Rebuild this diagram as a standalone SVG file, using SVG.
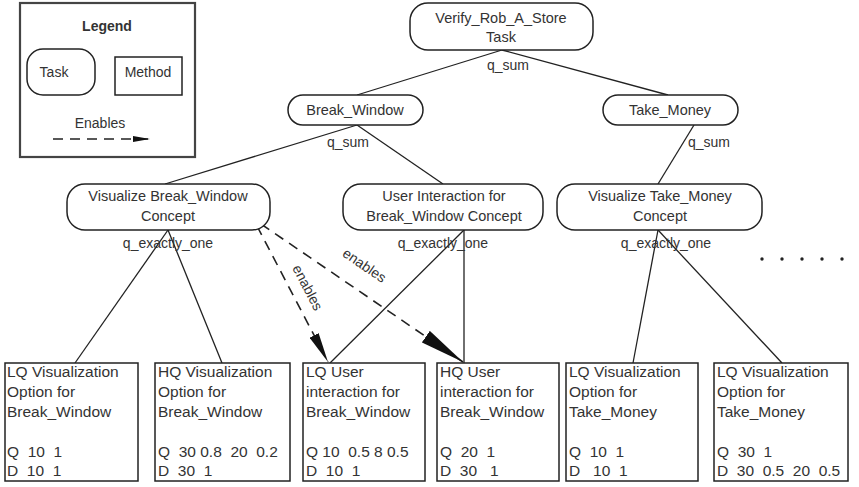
<svg xmlns="http://www.w3.org/2000/svg" width="859" height="487" viewBox="0 0 859 487">
<style>
  .node { fill: #ffffff; stroke: #222222; stroke-width: 1.5; }
  .t { font-family: "Liberation Sans", Arial, sans-serif; font-size: 14.5px; fill: #333333; text-anchor: middle; }
  .lt { font-family: "Liberation Sans", Arial, sans-serif; font-size: 14px; fill: #333333; text-anchor: middle; }
  .bt { font-family: "Liberation Sans", Arial, sans-serif; font-size: 15.5px; fill: #333333; white-space: pre; }
  .lbl { font-family: "Liberation Sans", Arial, sans-serif; font-size: 14px; fill: #333333; text-anchor: middle; }
  .edge { stroke: #222222; stroke-width: 1.3; fill: none; }
  .dash { stroke: #222222; stroke-width: 1.6; fill: none; stroke-dasharray: 10 7; }
</style>
<defs>
  <marker id="arrowS" markerUnits="userSpaceOnUse" markerWidth="18" markerHeight="8" refX="17" refY="4" orient="auto">
    <path d="M0,1 L17,4 L0,7 Z" fill="#111111"/>
  </marker>
  <marker id="arrowM" markerUnits="userSpaceOnUse" markerWidth="31" markerHeight="11" refX="30" refY="5.5" orient="auto">
    <path d="M0,0.5 L30,5.5 L0,10.5 Z" fill="#111111"/>
  </marker>
  <marker id="arrowL" markerUnits="userSpaceOnUse" markerWidth="46" markerHeight="15" refX="45" refY="7.5" orient="auto">
    <path d="M0,0.5 L45,7.5 L0,14.5 Z" fill="#111111"/>
  </marker>
</defs>
<rect width="859" height="487" fill="#ffffff"/>

<g id="legend">
  <rect x="20" y="3" width="175" height="154" fill="#ffffff" stroke="#444444" stroke-width="2.2"/>
  <text x="107" y="31" class="lt" font-weight="bold">Legend</text>
  <rect x="27" y="49" width="68" height="46" rx="16" class="node"/>
  <text x="54" y="77" class="lt">Task</text>
  <rect x="115" y="57" width="67" height="38" class="node"/>
  <text x="148" y="77" class="lt">Method</text>
  <text x="100" y="128" class="lt">Enables</text>
  <line x1="53" y1="139" x2="150" y2="139" class="dash" stroke-dasharray="8 5" marker-end="url(#arrowS)"/>
</g>

<g id="connectors">
  <line x1="502" y1="50" x2="357" y2="95" class="edge"/>
  <line x1="502" y1="50" x2="668" y2="95" class="edge"/>
  <line x1="357" y1="125" x2="165" y2="184" class="edge"/>
  <line x1="357" y1="125" x2="443" y2="184" class="edge"/>
  <line x1="694" y1="125" x2="658" y2="184" class="edge"/>
  <line x1="168" y1="230" x2="75" y2="363" class="edge"/>
  <line x1="168" y1="230" x2="222" y2="363" class="edge"/>
  <line x1="464" y1="230" x2="330" y2="363" class="edge"/>
  <line x1="464" y1="230" x2="464" y2="363" class="edge"/>
  <line x1="658" y1="230" x2="633" y2="363" class="edge"/>
  <line x1="658" y1="230" x2="782" y2="363" class="edge"/>
  <line x1="257" y1="226" x2="328" y2="362" class="dash" marker-end="url(#arrowM)"/>
  <line x1="261" y1="224" x2="463" y2="362" class="dash" marker-end="url(#arrowL)"/>
  <text x="307" y="292" class="lbl" transform="rotate(62.5 307 288)">enables</text>
  <text x="364" y="270" class="lbl" transform="rotate(34.5 364 266)">enables</text>
  <text x="508" y="70" class="lbl">q_sum</text>
  <text x="348" y="147" class="lbl">q_sum</text>
  <text x="709" y="147" class="lbl">q_sum</text>
  <text x="168" y="248" class="lbl">q_exactly_one</text>
  <text x="443" y="248" class="lbl">q_exactly_one</text>
  <text x="666" y="248" class="lbl">q_exactly_one</text>
</g>

<g id="verify">
  <rect x="410" y="3" width="183" height="47" rx="18" class="node"/>
  <text x="501" y="23" class="t">Verify_Rob_A_Store</text>
  <text x="501" y="42" class="t">Task</text>
</g>
<g id="break_window">
  <rect x="288" y="95" width="135" height="30" rx="15" class="node"/>
  <text x="355" y="115" class="t">Break_Window</text>
</g>
<g id="take_money">
  <rect x="603" y="95" width="135" height="30" rx="15" class="node"/>
  <text x="670" y="115" class="t">Take_Money</text>
</g>
<g id="vis_bw">
  <rect x="67" y="184" width="203" height="46" rx="18" class="node"/>
  <text x="168" y="201" class="t">Visualize Break_Window</text>
  <text x="168" y="221" class="t">Concept</text>
</g>
<g id="ui_bw">
  <rect x="343" y="184" width="200" height="46" rx="18" class="node"/>
  <text x="444" y="201" class="t">User Interaction for</text>
  <text x="444" y="221" class="t">Break_Window Concept</text>
</g>
<g id="vis_tm">
  <rect x="557" y="184" width="205" height="46" rx="18" class="node"/>
  <text x="660" y="201" class="t">Visualize Take_Money</text>
  <text x="660" y="221" class="t">Concept</text>
</g>
<g id="dots" fill="#222222">
  <circle cx="762" cy="259" r="1.7"/>
  <circle cx="782" cy="259" r="1.7"/>
  <circle cx="802" cy="259" r="1.7"/>
  <circle cx="822" cy="259" r="1.7"/>
  <circle cx="842" cy="259" r="1.7"/>
</g>

<g id="lq_vis_bw">
  <rect x="5" y="363" width="133" height="118" class="node"/>
  <text class="bt" xml:space="preserve"><tspan x="7" y="377">LQ Visualization</tspan><tspan x="7" y="397">Option for</tspan><tspan x="7" y="417">Break_Window</tspan><tspan x="7" y="457">Q  10  1</tspan><tspan x="7" y="476">D  10  1</tspan></text>
</g>
<g id="hq_vis_bw">
  <rect x="155" y="363" width="135" height="118" class="node"/>
  <text class="bt" xml:space="preserve"><tspan x="158" y="377">HQ Visualization</tspan><tspan x="158" y="397">Option for</tspan><tspan x="158" y="417">Break_Window</tspan><tspan x="158" y="457">Q  30 0.8  20  0.2</tspan><tspan x="158" y="476">D  30  1</tspan></text>
</g>
<g id="lq_ui_bw">
  <rect x="303" y="363" width="122" height="118" class="node"/>
  <text class="bt" xml:space="preserve"><tspan x="306" y="377">LQ User</tspan><tspan x="306" y="397">interaction for</tspan><tspan x="306" y="417">Break_Window</tspan><tspan x="306" y="457">Q 10  0.5 8 0.5</tspan><tspan x="306" y="476">D  10  1</tspan></text>
</g>
<g id="hq_ui_bw">
  <rect x="437" y="363" width="122" height="118" class="node"/>
  <text class="bt" xml:space="preserve"><tspan x="440" y="377">HQ User</tspan><tspan x="440" y="397">interaction for</tspan><tspan x="440" y="417">Break_Window</tspan><tspan x="440" y="457">Q  20  1</tspan><tspan x="440" y="476">D  30   1</tspan></text>
</g>
<g id="lq_vis_tm">
  <rect x="566" y="363" width="132" height="118" class="node"/>
  <text class="bt" xml:space="preserve"><tspan x="569" y="377">LQ Visualization</tspan><tspan x="569" y="397">Option for</tspan><tspan x="569" y="417">Take_Money</tspan><tspan x="569" y="457">Q  10  1</tspan><tspan x="569" y="476">D   10  1</tspan></text>
</g>
<g id="lq_vis_tm2">
  <rect x="714" y="363" width="134" height="118" class="node"/>
  <text class="bt" xml:space="preserve"><tspan x="717" y="377">LQ Visualization</tspan><tspan x="717" y="397">Option for</tspan><tspan x="717" y="417">Take_Money</tspan><tspan x="717" y="457">Q  30  1</tspan><tspan x="717" y="476">D  30  0.5  20  0.5</tspan></text>
</g>
</svg>
